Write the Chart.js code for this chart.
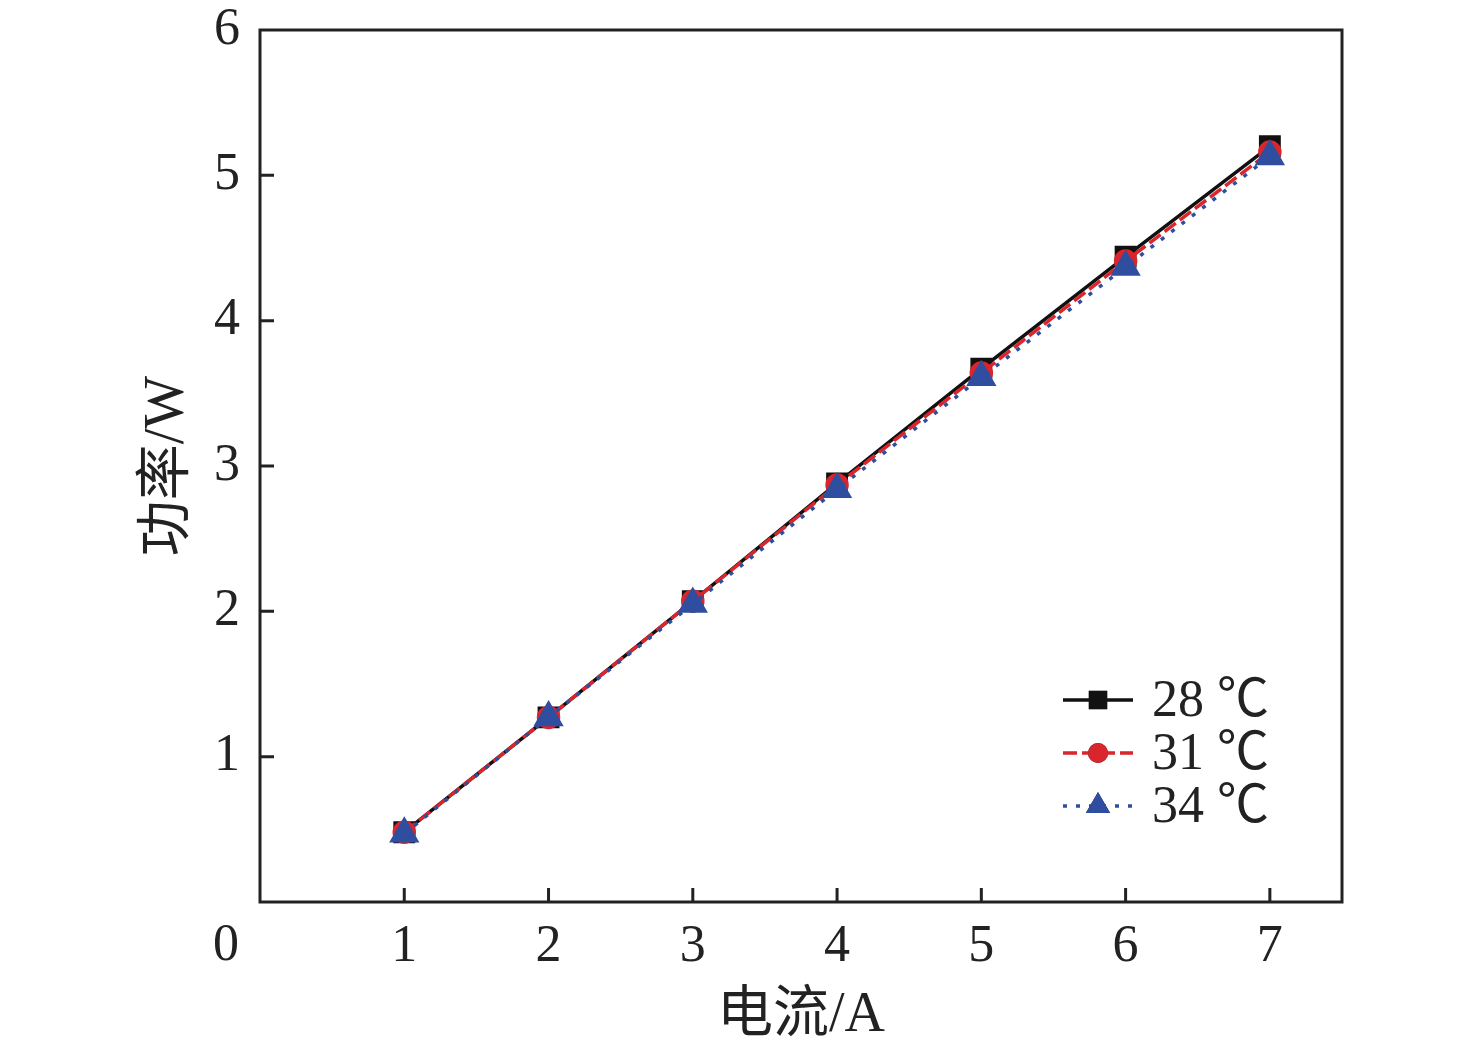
<!DOCTYPE html>
<html><head><meta charset="utf-8">
<script src="https://cdn.jsdelivr.net/npm/chart.js@4.4.1/dist/chart.umd.min.js"></script>
<style>html,body{margin:0;padding:0;background:#fff;}#wrap{width:1476px;height:1050px;}</style>
</head><body><div id="wrap"><canvas id="c" width="1476" height="1050"></canvas></div>
<script>
const currents = [1, 2, 3, 4, 5, 6, 7];
const power28 = [0.48, 1.27, 2.07, 2.88, 3.67, 4.44, 5.20];
const power31 = [0.48, 1.27, 2.07, 2.87, 3.64, 4.41, 5.16];
const power34 = [0.47, 1.27, 2.05, 2.84, 3.61, 4.37, 5.13];
const seriesLabels = ['28 ℃', '31 ℃', '34 ℃'];
const xTicks = [1, 2, 3, 4, 5, 6, 7];
const yTicks = [1, 2, 3, 4, 5, 6];
const originLabel = '0';

const serif = '"Liberation Serif","Times New Roman","Noto Sans CJK SC",serif';
const titleFont = '"Liberation Serif","Noto Sans CJK SC",serif';

function pts(arr){ return currents.map((x,i)=>({x:x,y:arr[i]})); }

const datasets = [
  {label: seriesLabels[0], data: pts(power28), borderColor:'#111', backgroundColor:'#111', borderWidth:3.5,
   pointStyle:'rect', pointRadius:13, pointHoverRadius:13, order:3, borderDash:[]},
  {label: seriesLabels[1], data: pts(power31), borderColor:'#d9252b', backgroundColor:'#d9252b', borderWidth:3.5,
   pointStyle:'circle', pointRadius:10, pointHoverRadius:10, order:2, borderDash:[14,5]},
  {label: seriesLabels[2], data: pts(power34), borderColor:'#2f4ea0', backgroundColor:'#2f4ea0', borderWidth:3.5,
   pointStyle:'triangle', pointRadius:14, pointHoverRadius:14, order:1, borderDash:[4,9]}
];

const extras = {
  id:'extras',
  afterDraw(chart){
    const ctx = chart.ctx, ca = chart.chartArea, xs = chart.scales.x, ys = chart.scales.y;
    ctx.save();
    ctx.strokeStyle = '#222'; ctx.lineWidth = 3;
    ctx.strokeRect(ca.left, ca.top, ca.right-ca.left, ca.bottom-ca.top);
    ctx.beginPath();
    xTicks.forEach(v=>{ const px = xs.getPixelForValue(v); ctx.moveTo(px, ca.bottom); ctx.lineTo(px, ca.bottom-14); });
    yTicks.forEach(v=>{ if (v>=ys.max) return; const py = ys.getPixelForValue(v); ctx.moveTo(ca.left, py); ctx.lineTo(ca.left+14, py); });
    ctx.stroke();
    ctx.fillStyle = '#222'; ctx.font = '52px ' + serif;
    ctx.textAlign = 'center'; ctx.textBaseline = 'middle';
    ctx.fillText(originLabel, ca.left - 34, ca.bottom + 44);
    const lx0 = 1063, lx1 = 1133, ly0 = 700, dy = 53;
    chart.data.datasets.forEach((ds, i)=>{
      const y = ly0 + i*dy;
      ctx.strokeStyle = ds.borderColor; ctx.lineWidth = ds.borderWidth;
      ctx.setLineDash(ds.borderDash || []);
      ctx.beginPath(); ctx.moveTo(lx0, y); ctx.lineTo(lx1, y); ctx.stroke();
      ctx.setLineDash([]);
      Chart.helpers.drawPoint(ctx, {pointStyle: ds.pointStyle, radius: ds.pointRadius, borderWidth:0}, (lx0+lx1)/2, y);
      ctx.fillStyle = ds.backgroundColor; ctx.fill();
      ctx.fillStyle = '#222'; ctx.font = '52px ' + serif; ctx.textAlign='left'; ctx.textBaseline='middle';
      ctx.fillText(ds.label, 1152, y+2);
    });
    ctx.restore();
  }
};

new Chart(document.getElementById('c'), {
  type:'line',
  data:{datasets},
  options:{
    responsive:false, animation:false, devicePixelRatio:1,
    layout:{padding:{left:135, right:134, top:30, bottom:0}},
    plugins:{legend:{display:false}, tooltip:{enabled:false}},
    elements:{line:{tension:0}},
    scales:{
      x:{type:'linear', min:0, max:7.5,
         afterBuildTicks(s){ s.ticks = xTicks.map(v=>({value:v})); },
         afterFit(s){ s.height = 1050 - 902; },
         grid:{display:false}, border:{display:false},
         ticks:{color:'#222', font:{family:serif, size:52}, padding:6},
         title:{display:true, text:'电流/A', color:'#222', font:{family:titleFont, size:56}, padding:{top:0,bottom:0}}
      },
      y:{type:'linear', min:0, max:6,
         afterBuildTicks(s){ s.ticks = yTicks.map(v=>({value:v})); },
         afterFit(s){ s.width = 260 - 135; },
         grid:{display:false}, border:{display:false},
         ticks:{color:'#222', font:{family:serif, size:52, lineHeight:0.5}, padding:12},
         title:{display:true, text:'功率/W', color:'#222', font:{family:titleFont, size:56}, padding:{top:0,bottom:0}}
      }
    }
  },
  plugins:[extras]
});
</script>
</body></html>
